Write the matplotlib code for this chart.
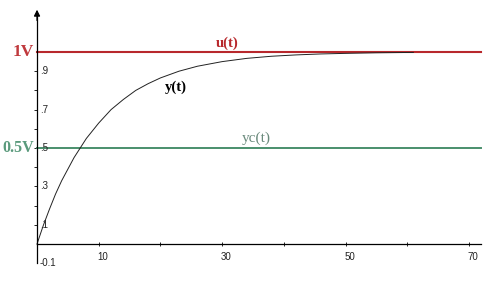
import numpy as np
import matplotlib
matplotlib.use("Agg")
import matplotlib.pyplot as plt

# ── data ─────────────────────────────────────────────────────────────────
t_vals = [0, 1, 2, 3, 4, 5, 6, 7, 8, 9, 10, 12, 14, 16, 18, 20, 23, 26,
          30, 34, 38, 42, 46, 50, 55, 61]
y_vals = [0.0, 0.095, 0.18, 0.26, 0.33, 0.39, 0.45, 0.50, 0.55, 0.59,
          0.63, 0.70, 0.753, 0.80, 0.835, 0.865, 0.90, 0.926,
          0.95, 0.967, 0.978, 0.985, 0.99, 0.993, 0.996, 0.998]
u_level = 1.0
yc_level = 0.5
line_t = [0, 72]

x_ticks = [10, 20, 30, 40, 50, 60, 70]
x_labels = ["10", "", "30", "", "50", "", "70"]
y_ticks = [0.1, 0.2, 0.3, 0.4, 0.5, 0.6, 0.7, 0.8, 0.9]
y_labels = [".1", "", ".3", "", ".5", "", ".7", "", ".9"]

RED = "#b8282c"
GREEN = "#4a8f6c"

fig = plt.figure(figsize=(5, 3), dpi=100)
ax = fig.add_axes([0, 0, 1, 1])
ax.set_xlim(-6.0, 75.04)
ax.set_ylim(-0.2917, 1.271)

for s in ("top", "right"):
    ax.spines[s].set_visible(False)
ax.spines["left"].set_position(("data", 0))
ax.spines["bottom"].set_position(("data", 0))
ax.spines["left"].set_bounds(-0.1, 1.2)
ax.spines["bottom"].set_bounds(0, 72)
ax.spines["left"].set_linewidth(0.9)
ax.spines["bottom"].set_linewidth(0.9)

ax.set_xticks(x_ticks)
ax.set_xticklabels([])
ax.set_yticks(y_ticks)
ax.set_yticklabels([])
ax.tick_params(axis="x", direction="inout", length=3, width=0.6)
ax.tick_params(axis="y", direction="out", length=2.5, width=0.6)

lab_font = dict(family="Liberation Sans", fontsize=7, color="#222222")
for xt, lab in zip(x_ticks, x_labels):
    if lab:
        ax.annotate(lab, (xt, 0), xytext=(3, -9), textcoords="offset points",
                    ha="center", va="center", **lab_font)
for yt, lab in zip(y_ticks, y_labels):
    if lab:
        ax.annotate(lab, (0, yt), xytext=(2.5, 0), textcoords="offset points",
                    ha="left", va="center", **lab_font)
ax.annotate("-0.1", (0, -0.1), xytext=(2, 0), textcoords="offset points",
            ha="left", va="center", **lab_font)

# arrow on top of y axis
ax.annotate("", xy=(0, 1.235), xytext=(0, 1.15),
            arrowprops=dict(arrowstyle="-|>", color="black", lw=0.9,
                            mutation_scale=9))

# lines
ax.plot(line_t, [u_level, u_level], color=RED, lw=1.5)
ax.plot(line_t, [yc_level, yc_level], color=GREEN, lw=1.4)
ax.plot(t_vals, y_vals, color="#222222", lw=0.7)

# labels
serif = "Liberation Serif"
ax.annotate("1V", (0, u_level), xytext=(-2.5, 0), textcoords="offset points",
            ha="right", va="center", family=serif, fontweight="bold",
            fontsize=12.5, color="#c0393d")
ax.annotate("0.5V", (0, yc_level), xytext=(-2.5, 0), textcoords="offset points",
            ha="right", va="center", family=serif, fontweight="bold",
            fontsize=11.5, color="#5a9a7c")
ax.text(30.9, 1.045, "u(t)", family=serif, fontweight="bold", fontsize=10.5,
        color=RED, ha="center", va="center")
ax.text(22.5, 0.815, "y(t)", family=serif, fontweight="bold", fontsize=10.5,
        color="black", ha="center", va="center")
ax.text(35.6, 0.55, "yc(t)", family=serif, fontsize=11,
        color="#6a8a7c", ha="center", va="center")

plt.savefig("out.png", dpi=100)
plt.close(fig)
